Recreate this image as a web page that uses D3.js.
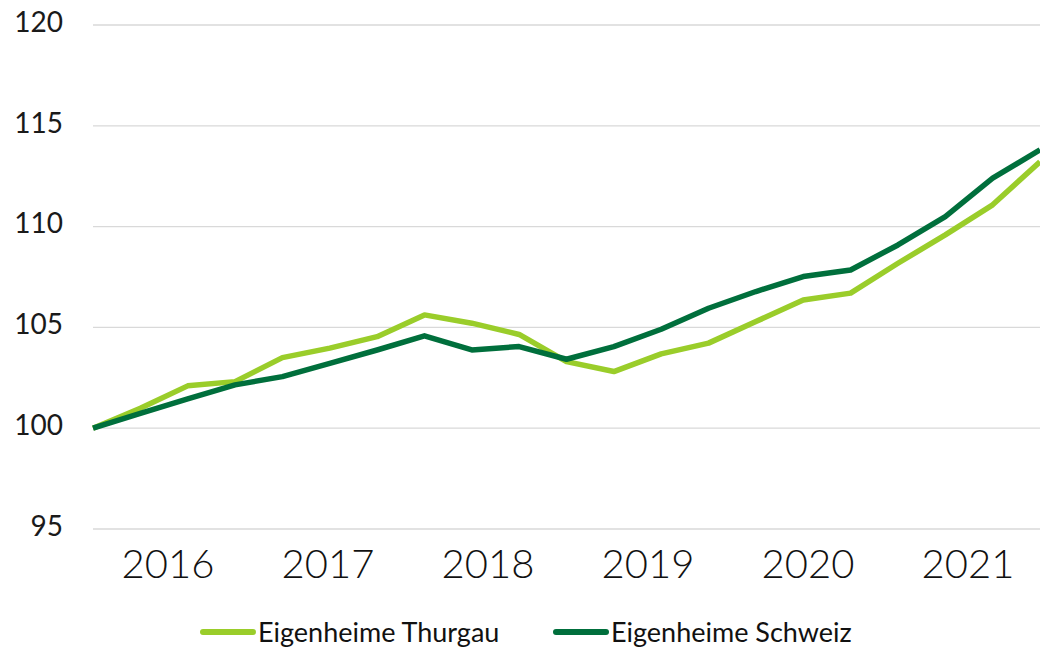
<!DOCTYPE html>
<html lang="de">
<head>
  <meta charset="UTF-8">
  <title>Eigenheime Thurgau vs. Schweiz</title>
  <script src="https://d3js.org/d3.v7.min.js"></script>
  <style>
    body { margin: 0; background: #fff; }
    svg { display: block; font-family: Lato, "Open Sans", sans-serif; }
  </style>
</head>
<body>
  <svg id="chart" width="1040" height="648"></svg>
  <script>
    // Index values (21 periods, start = 100)
    const thurgau = [100, 100.99, 102.10, 102.31, 103.50, 103.97, 104.54, 105.62, 105.21, 104.65,
                     103.30, 102.81, 103.69, 104.22, 105.29, 106.36, 106.70, 108.18, 109.59, 111.08, 113.22];
    const schweiz = [100, 100.74, 101.45, 102.15, 102.56, 103.22, 103.88, 104.58, 103.88, 104.05,
                     103.42, 104.05, 104.91, 105.95, 106.78, 107.52, 107.85, 109.09, 110.50, 112.40, 113.81];
    const years = [2016, 2017, 2018, 2019, 2020, 2021];
    const yTicks = [95, 100, 105, 110, 115, 120];
    const seriesNames = ["Eigenheime Thurgau", "Eigenheime Schweiz"];
    const colors = ["#9acd2a", "#006f3c"];

    const plotLeft = 93, plotRight = 1040, plotTop = 25, plotBottom = 529;

    const svg = d3.select("#chart");

    const x = d3.scaleLinear().domain([0, thurgau.length - 1]).range([plotLeft, plotRight]);
    const xYear = d3.scaleLinear().domain([2016, 2022]).range([88, 1048]);
    const y = d3.scaleLinear().domain([95, 120]).range([plotBottom, plotTop]);

    // gridlines
    svg.append("g")
      .selectAll("line")
      .data(yTicks)
      .enter()
      .append("line")
      .attr("x1", plotLeft)
      .attr("x2", plotRight)
      .attr("y1", d => y(d))
      .attr("y2", d => y(d))
      .attr("stroke", "#d9d9d9")
      .attr("stroke-width", 1.3);

    // y labels
    svg.append("g")
      .selectAll("text")
      .data(yTicks)
      .enter()
      .append("text")
      .attr("x", 63)
      .attr("y", d => y(d) - 3)
      .attr("dy", "0.35em")
      .attr("text-anchor", "end")
      .style("font-size", "28px")
      .attr("fill", "#1a1a1a")
      .text(d => d);

    // year labels
    svg.append("g")
      .selectAll("text")
      .data(years)
      .enter()
      .append("text")
      .attr("x", d => xYear(d + 0.5))
      .attr("y", 578)
      .attr("text-anchor", "middle")
      .style("font-size", "40px")
      .style("font-weight", 300)
      .attr("fill", "#111")
      .text(d => d);

    // lines
    const line = d3.line()
      .x((d, i) => x(i))
      .y(d => y(d));

    [thurgau, schweiz].forEach((s, k) => {
      svg.append("path")
        .datum(s)
        .attr("fill", "none")
        .attr("stroke", colors[k])
        .attr("stroke-width", 5.5)
        .attr("stroke-linejoin", "round")
        .attr("d", line);
    });

    // legend
    const legendX = [200, 553];
    seriesNames.forEach((name, k) => {
      const lg = svg.append("g").attr("transform", `translate(${legendX[k]},632)`);
      lg.append("line")
        .attr("x1", 3).attr("x2", 53)
        .attr("stroke", colors[k])
        .attr("stroke-width", 6)
        .attr("stroke-linecap", "round");
      lg.append("text")
        .attr("x", 58)
        .attr("y", 10)
        .style("font-size", "27px")
        .attr("fill", "#111")
        .text(name);
    });
  </script>
</body>
</html>
